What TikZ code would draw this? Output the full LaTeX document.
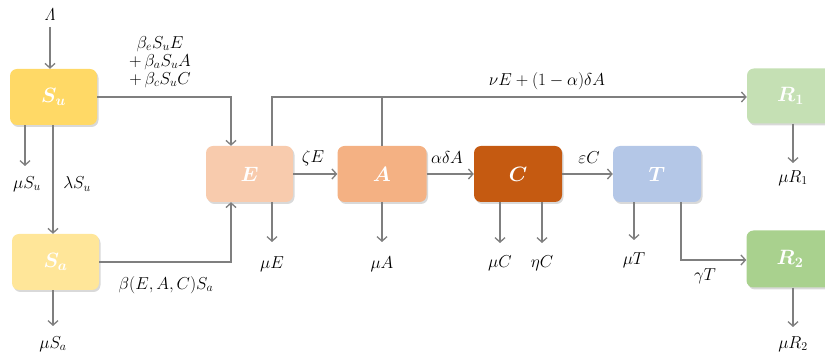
\documentclass[tikz,border=0pt]{standalone}
\usepackage{amsmath,bm}
\usetikzlibrary{arrows.meta,shadows}
\definecolor{cSu}{HTML}{FFD966}
\definecolor{cSa}{HTML}{FFE699}
\definecolor{cE}{HTML}{F8CBAD}
\definecolor{cA}{HTML}{F4B183}
\definecolor{cC}{HTML}{C55A11}
\definecolor{cT}{HTML}{B4C7E7}
\definecolor{cRa}{HTML}{C5E0B4}
\definecolor{cRb}{HTML}{A9D18E}
\definecolor{ln}{HTML}{7F7F7F}
\tikzset{
  box/.style={rounded corners=7pt, minimum width=87pt, minimum height=56pt, inner sep=0pt,
    text=white, font=\fontsize{20}{24}\selectfont,
    drop shadow={opacity=0.3, shadow xshift=1.5pt, shadow yshift=-2pt}},
  lbl/.style={inner sep=0pt, font=\fontsize{16.5}{17}\selectfont},
  arr/.style={draw=ln, line width=1.3pt, -{Straight Barb[length=4.5pt,width=10pt]}},
  ln/.style={draw=ln, line width=1.3pt},
}
\begin{document}
\begin{tikzpicture}[x=1pt,y=-1pt]
\useasboundingbox (0,0) rectangle (825,352);
% boxes
\node[box, fill=cSu] (Su) at (53.5,97) {$\bm{S_u}$};
\node[box, fill=cSa] (Sa) at (55.5,262) {$\bm{S_a}$};
\node[box, fill=cE] (E) at (249.5,174) {$\bm{E}$};
\node[box, fill=cA, minimum width=89pt] (A) at (382,174) {$\bm{A}$};
\node[box, fill=cC, minimum width=88pt] (C) at (518,174) {$\bm{C}$};
\node[box, fill=cT, minimum width=88pt] (T) at (657,174) {$\bm{T}$};
\node[box, fill=cRa, minimum height=55pt] (R1) at (790.5,96) {$\bm{R_1}$};
\node[box, fill=cRb, minimum height=57pt] (R2) at (790,259) {$\bm{R_2}$};
% labels
\node[lbl] (Lam) at (50,15) {$\mathit{\Lambda}$};
\node[lbl, align=center] (inf) at (160,62) {$\beta_e S_u E$\\[1pt]$+\,\beta_a S_u A$\\[1pt]$+\,\beta_c S_u C$};
\node[lbl] (muSu) at (27,184) {$\mu S_u$};
\node[lbl] (laSu) at (77,184) {$\lambda S_u$};
\node[lbl] (muSa) at (53,344) {$\mu S_a$};
\node[lbl] (bSa) at (166,285) {$\beta(E,A,C)S_a$};
\node[lbl] (rec) at (547,81) {$\nu E+(1-\alpha)\delta A$};
\node[lbl] (zE) at (313,158) {$\zeta E$};
\node[lbl] (adA) at (447,158) {$\alpha\delta A$};
\node[lbl] (eC) at (589,158) {$\varepsilon C$};
\node[lbl] (muE) at (272,264) {$\mu E$};
\node[lbl] (muA) at (382,264) {$\mu A$};
\node[lbl] (muC) at (500,263) {$\mu C$};
\node[lbl] (etC) at (542,263) {$\eta C$};
\node[lbl] (muT) at (634,260) {$\mu T$};
\node[lbl] (gT) at (705,276) {$\gamma T$};
\node[lbl] (muR1) at (793,178) {$\mu R_1$};
\node[lbl] (muR2) at (793,344) {$\mu R_2$};
% arrow end points
\coordinate (eLam) at (50,27);
\coordinate (eSu) at (25,166);
\coordinate (eSa) at (53,326);
\coordinate (eE) at (272,242);
\coordinate (eA) at (382,242);
\coordinate (eC1) at (500,243);
\coordinate (eC2) at (542,243);
\coordinate (eT) at (634,240);
\coordinate (eR1) at (793,163);
\coordinate (eR2) at (793,327);
\coordinate (top) at (272,97);
\coordinate (gam) at (681,260);
% connectors
\draw[arr] (eLam) -- (eLam |- Su.north);
\draw[arr] (Su.east) -| ([xshift=-18.5pt]E.north);
\draw[arr] (Sa.east) -| ([xshift=-18.5pt]E.south);
\draw[arr] (Su.south -| eSu) -- (eSu);
\draw[arr] (Su.south -| eSa) -- (eSa |- Sa.north);
\draw[arr] (Sa.south -| eSa) -- (eSa);
\draw[arr] (E.north -| top) -- (top) -- (top -| R1.west);
\draw[ln] (A.north) -- (A.north |- top);
\draw[arr] (E.south -| eE) -- (eE);
\draw[arr] (E.east) -- (A.west);
\draw[arr] (A.south) -- (eA);
\draw[arr] (A.east) -- (C.west);
\draw[arr] (C.south -| eC1) -- (eC1);
\draw[arr] (C.south -| eC2) -- (eC2);
\draw[arr] (C.east) -- (T.west);
\draw[arr] (T.south -| eT) -- (eT);
\draw[arr] (T.south -| gam) -- (gam) -- (gam -| R2.west);
\draw[arr] (R1.south -| eR1) -- (eR1);
\draw[arr] (R2.south -| eR2) -- (eR2);
\end{tikzpicture}
\end{document}
